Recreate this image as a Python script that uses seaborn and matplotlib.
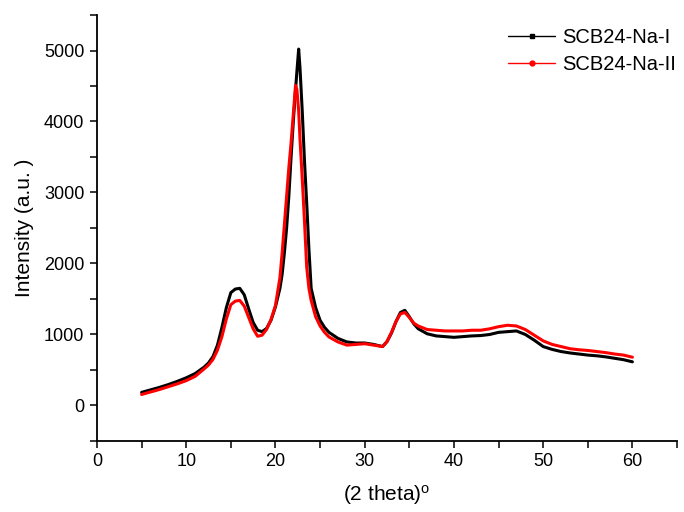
import matplotlib
matplotlib.use('Agg')
import matplotlib.pyplot as plt
from matplotlib.lines import Line2D
from matplotlib.ticker import MultipleLocator
import seaborn as sns
import pandas as pd

# 2 theta positions (shared by both scans)
two_theta = [5, 6, 7, 8, 9, 10, 11, 12,
             12.5, 13, 13.5, 14, 14.5, 15, 15.5, 16, 16.5, 17, 17.5, 18, 18.5, 19, 19.5, 20,
             20.5, 20.75, 21, 21.25, 21.5, 21.75, 22, 22.25, 22.4, 22.6, 22.75, 23, 23.25, 23.5, 23.75, 24,
             24.5, 25, 25.5, 26,
             27, 28, 29, 30, 31, 32,
             32.5, 33, 33.5, 34, 34.5, 35, 35.5, 36,
             37, 38, 39, 40, 41, 42, 43, 44, 45, 46, 47, 48, 49, 50,
             51, 52, 53, 54, 55, 56, 57, 58, 59, 60]

na_1 = [185, 220, 255, 295, 340, 390, 450, 540,
        600, 690, 850, 1100, 1380, 1590, 1640, 1650, 1560, 1360, 1170, 1060, 1040, 1085, 1200, 1390,
        1650, 1850, 2150, 2500, 2950, 3500, 4000, 4450, 4700, 5020, 4750, 4150, 3450, 2850, 2200, 1650,
        1380, 1200, 1100, 1030,
        945, 895, 880, 880, 860, 830,
        900, 1020, 1180, 1310, 1340, 1250, 1150, 1080,
        1010, 980, 970, 960, 970, 980, 985, 1000, 1030, 1040, 1050, 1000, 920, 830,
        790, 760, 740, 725, 710, 700, 685, 665, 645, 615]

na_2 = [155, 190, 225, 265, 305, 350, 410, 515,
        570, 650, 780, 970, 1220, 1420, 1470, 1480, 1400, 1240, 1080, 975, 990, 1070, 1210, 1410,
        1800, 2150, 2550, 2950, 3350, 3700, 4100, 4510, 4450, 4150, 3750, 3200, 2600, 1950, 1650, 1480,
        1250, 1120, 1030, 965,
        895, 850, 860, 870, 850, 830,
        900, 1030, 1180, 1290, 1310, 1240, 1160, 1120,
        1070, 1060, 1050, 1050, 1050, 1060, 1060, 1080, 1110, 1130, 1120, 1070, 990, 910,
        860, 830, 800, 785, 775, 760, 745, 725, 710, 680]

labels = ['SCB24-Na-I', 'SCB24-Na-II']
colors = ['black', 'red']
markers = ['s', 'o']

sns.set_theme(style='ticks')
plt.rcParams['font.family'] = ['Liberation Sans', 'DejaVu Sans']
plt.rcParams['mathtext.fontset'] = 'custom'
plt.rcParams['mathtext.rm'] = 'Liberation Sans'
plt.rcParams['mathtext.it'] = 'Liberation Sans'
plt.rcParams['text.color'] = 'black'
plt.rcParams['axes.labelcolor'] = 'black'

fig = plt.figure(figsize=(6.84, 5.12), dpi=100)
ax = fig.add_axes([0.1418, 0.1387, 0.848, 0.832])

df1 = pd.DataFrame({'x': two_theta, 'y': na_1})
df2 = pd.DataFrame({'x': two_theta, 'y': na_2})
sns.lineplot(data=df1, x='x', y='y', color=colors[0], lw=2.2, ax=ax, sort=False)
sns.lineplot(data=df2, x='x', y='y', color=colors[1], lw=2.2, ax=ax, sort=False)

ax.set_xlim(0, 65)
ax.set_ylim(-500, 5500)
ax.xaxis.set_major_locator(MultipleLocator(10))
ax.xaxis.set_minor_locator(MultipleLocator(5))
ax.yaxis.set_major_locator(MultipleLocator(1000))
ax.yaxis.set_minor_locator(MultipleLocator(500))
ax.tick_params(which='both', direction='out', length=5, width=1.1, colors='black',
               labelsize=13, pad=4)

for side in ['top', 'right']:
    ax.spines[side].set_visible(False)
for side in ['left', 'bottom']:
    ax.spines[side].set_linewidth(1.3)
    ax.spines[side].set_color('black')

ax.set_xlabel('(2 theta)$^{\\mathrm{o}}$', fontsize=15, labelpad=9)
ax.set_ylabel('Intensity (a.u. )', fontsize=15, labelpad=7)

handles = [Line2D([0], [0], color=c, lw=1.0, marker=m, markersize=3.5)
           for c, m in zip(colors, markers)]
ax.legend(handles, labels, loc='upper right', bbox_to_anchor=(1.009, 0.984), frameon=False,
          fontsize=14.5, handlelength=2.35, handletextpad=0.35, labelspacing=0.4,
          borderpad=0.3, borderaxespad=0.0)

fig.savefig('out.png', dpi=100)
